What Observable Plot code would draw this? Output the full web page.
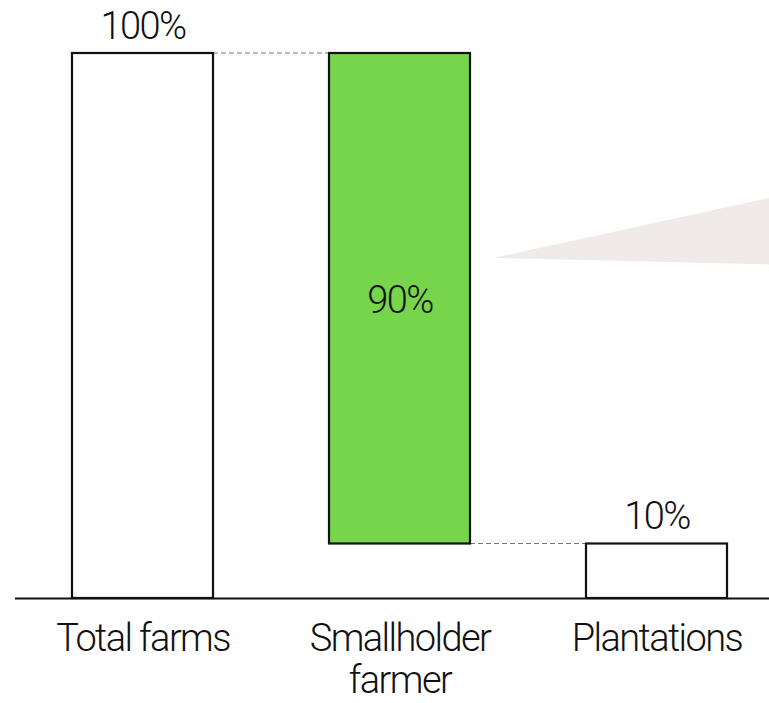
<!DOCTYPE html>
<html>
<head>
<meta charset="utf-8">
<script src="https://cdn.jsdelivr.net/npm/d3@7"></script>
<script src="https://cdn.jsdelivr.net/npm/@observablehq/plot@0.6"></script>
<style>
  html, body { margin: 0; padding: 0; background: #fff; }
  #chart svg { display: block; }
</style>
</head>
<body>
<div id="chart"></div>
<script>
// Waterfall: total farms split into smallholders and plantations
const categories = ["Total farms", "Smallholder farmer", "Plantations"];
const tickLabels = ["Total farms", "Smallholder\nfarmer", "Plantations"];
const barStart = [0, 10, 0];
const barEnd = [100, 100, 10];
const shareLabels = ["100%", "90%", "10%"];
const barFills = ["#ffffff", "#76d54b", "#ffffff"];

// dashed connectors between consecutive bars, at the level they share
const connectorFrom = ["Total farms", "Smallholder farmer"];
const connectorTo = ["Smallholder farmer", "Plantations"];
const connectorLevel = [100, 10];

// callout wedge pointing out of the smallholder bar (values on the y scale)
const wedgeTip = 62.4;
const wedgeTop = 73.4;
const wedgeBottom = 61.2;

const bars = categories.map((c, i) => ({
  category: c, tick: tickLabels[i], y1: barStart[i], y2: barEnd[i],
  label: shareLabels[i], fill: barFills[i]
}));
const connectors = connectorFrom.map((f, i) => ({from: f, to: connectorTo[i], level: connectorLevel[i]}));

const font = "Roboto, 'Open Sans', sans-serif";
const fs = 38;

const chart = Plot.plot({
  width: 769,
  height: 703,
  marginLeft: 15,
  marginRight: 0,
  marginTop: 53,
  marginBottom: 105,
  style: {fontFamily: font, letterSpacing: "-1.6px", color: "#111", background: "#fff"},
  x: {domain: categories, range: [71, 727], paddingInner: 0.4524, paddingOuter: 0, axis: null},
  y: {domain: [0, 100], range: [598, 53], axis: null},
  marks: [
    // callout wedge
    (index, scales, values, dims) => {
      const x = scales.x, y = scales.y;
      const tipX = x("Smallholder farmer") + x.bandwidth() + 23;
      const p = d3.create("svg:path")
        .attr("d", `M${tipX},${y(wedgeTip)}L${dims.width},${y(wedgeTop)}L${dims.width},${y(wedgeBottom)}Z`)
        .attr("fill", "#f0ebe9");
      return p.node();
    },
    // connectors
    (index, scales) => {
      const x = scales.x, y = scales.y;
      const g = d3.create("svg:g")
        .attr("stroke", "#777")
        .attr("stroke-width", 1)
        .attr("stroke-dasharray", "5,3");
      for (const c of connectors) {
        g.append("line")
          .attr("x1", x(c.from) + x.bandwidth())
          .attr("x2", x(c.to))
          .attr("y1", y(c.level))
          .attr("y2", y(c.level));
      }
      return g.node();
    },
    Plot.rectY(bars, {
      x: "category", y1: "y1", y2: "y2",
      fill: "fill", stroke: "#111", strokeWidth: 2.2
    }),
    Plot.ruleY([0], {stroke: "#111", strokeWidth: 2.2}),
    // labels above the white bars
    Plot.text(bars.filter(d => d.category !== "Smallholder farmer"), {
      x: "category", y: "y2", text: "label",
      lineAnchor: "bottom", dy: -15,
      fontSize: fs, fill: "#111", fontWeight: 300
    }),
    // label inside the highlighted bar
    Plot.text(bars.filter(d => d.category === "Smallholder farmer"), {
      x: "category", y: d => (d.y1 + d.y2) / 2, text: "label",
      lineAnchor: "middle", dy: 2,
      fontSize: fs, fill: "#111", fontWeight: 300
    }),
    // category labels under the baseline
    Plot.text(bars, {
      x: "category", y: 0, text: "tick",
      lineAnchor: "top", dy: 23, lineHeight: 1.1,
      fontSize: fs, fill: "#111", fontWeight: 300
    })
  ]
});

document.getElementById("chart").appendChild(chart);
</script>
</body>
</html>
